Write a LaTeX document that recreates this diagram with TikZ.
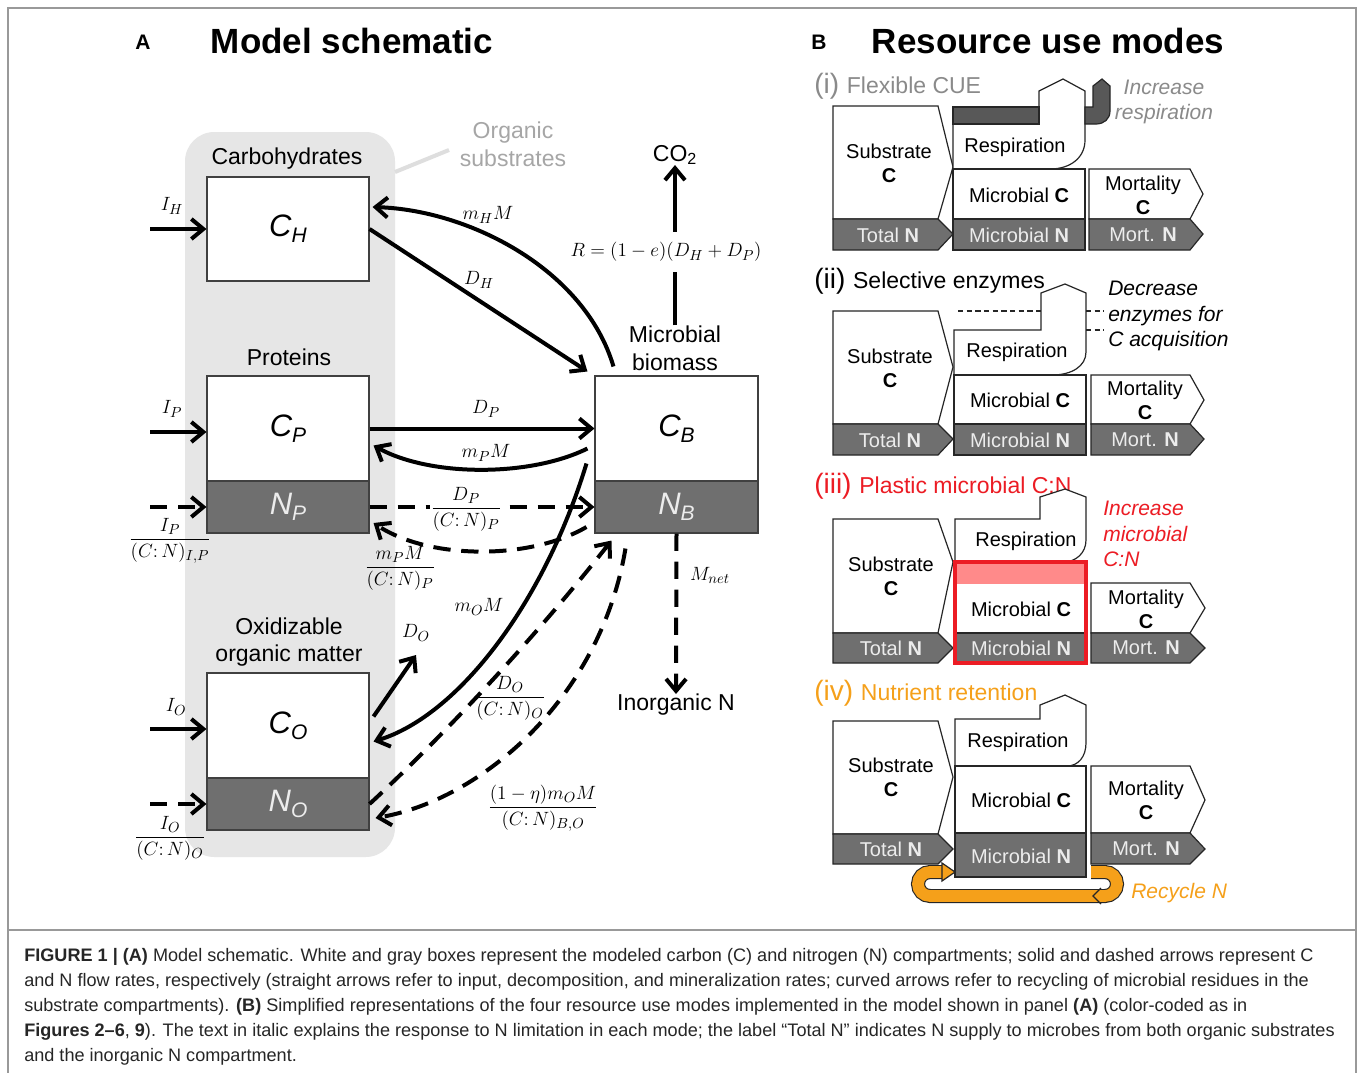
\documentclass[tikz,border=0pt]{standalone}
\usepackage[no-math]{fontspec}
\setmainfont{Liberation Sans}
\usetikzlibrary{arrows.meta,fit}

\definecolor{boxgray}{HTML}{6F6F6F}
\definecolor{bandgray}{HTML}{585858}
\definecolor{panelgray}{HTML}{E6E6E6}
\definecolor{leadgray}{HTML}{DEDEDE}
\definecolor{softgray}{HTML}{A6A6A6}
\definecolor{titlegray}{HTML}{8A8A8A}
\definecolor{ntext}{HTML}{ECECEC}
\definecolor{modered}{HTML}{EC1C24}
\definecolor{modepink}{HTML}{FF8A8A}
\definecolor{modeorange}{HTML}{F5A01A}

% font size given in pixels of the drawing grid (1px = 0.75pt)
\newcommand\pxfont[1]{\fontsize{\fpeval{0.75*(#1)}}{\fpeval{0.9*(#1)}}\selectfont}
% pool symbol: italic letter with lowered subscript
\newcommand\poollab[3][black]{\textcolor{#1}{\pxfont{31}\itshape #2\raisebox{-4.5pt}{\pxfont{21}#3}}}
\newcommand\ratio[2]{\displaystyle\frac{#1}{#2}}

\begin{document}
\begin{tikzpicture}[x=0.75pt,y=-0.75pt,
  flow/.style={line width=3pt,-{Straight Barb[length=9pt,width=15pt]}},
  nflow/.style={flow,dash pattern=on 13pt off 8pt},
  pool/.style={draw=black!75,line width=0.8pt,fill=white,inner sep=0pt},
  npool/.style={pool,fill=boxgray},
  mathlab/.style={font=\pxfont{21},inner sep=1pt},
  grouplab/.style={font=\pxfont{23},inner sep=0pt,align=center},
  outline/.style={draw=black!85,line width=0.9pt,line join=miter},
  wshape/.style={outline,fill=white},
  gshape/.style={outline,fill=boxgray},
  dshape/.style={outline,fill=bandgray},
  btxt/.style={font=\pxfont{20},inner sep=0pt,align=center},
  ntxt/.style={btxt,text=ntext},
  hint/.style={font=\pxfont{21}\itshape,inner sep=0pt,align=left,anchor=west},
  modetitle/.style={anchor=base west,inner sep=0pt},
  caption/.style={font=\pxfont{18.1},anchor=base west,inner sep=0pt,text=black!85}
]
\useasboundingbox (0,0) rectangle (1357,1072);
\fill[white] (0,0) rectangle (1357,1072);
% frame and caption rule
\draw[black!40,line width=0.8pt] (8,8) rectangle (1356,1110);
\draw[black!40,line width=0.8pt] (8,930) -- (1356,930);

% ================= panel A: model schematic =================
\node[font=\bfseries\pxfont{21}] (labA) at (143,42) {A};
\node[font=\bfseries\pxfont{35}] (titleA) at (352,41) {Model schematic};

\fill[panelgray,rounded corners=22pt] (185,132) rectangle (395,857);
\node[grouplab,text=softgray] (orgsub) at (513,144) {Organic\\substrates};
\coordinate (orgfoot) at (395,172);
\coordinate (orgtip) at (449,150);
\draw[leadgray,line width=3pt] (orgfoot) -- (orgtip);

\node[grouplab] (carb) at (287,159) {Carbohydrates};
\node[grouplab] (prot) at (289,357) {Proteins};
\node[grouplab] (oxid) at (289,642) {Oxidizable\\organic matter};
\node[grouplab] (MB) at (675,348) {Microbial\\biomass};
\node[grouplab] (co2) at (675,155) {CO\textsubscript{2}};
\node[grouplab] (inorg) at (676,705) {Inorganic N};

% compartments
\node[pool,fit={(207,177)(369,281)}] (CH) {};
\node[pool,fit={(207,376)(369,481)}] (CP) {};
\node[npool,fit={(207,481)(369,533)}] (NP) {};
\node[pool,fit={(207,673)(369,778)}] (CO) {};
\node[npool,fit={(207,778)(369,830)}] (NO) {};
\node[pool,fit={(595,376)(758,481)}] (CB) {};
\node[npool,fit={(595,481)(758,533)}] (NB) {};

\node (CHl) at (CH) {\poollab{C}{H}};
\node (CPl) at (CP) {\poollab{C}{P}};
\node (NPl) at (NP) {\poollab[ntext]{N}{P}};
\node (COl) at (CO) {\poollab{C}{O}};
\node (NOl) at (NO) {\poollab[ntext]{N}{O}};
\node (CBl) at (CB) {\poollab{C}{B}};
\node (NBl) at (NB) {\poollab[ntext]{N}{B}};

% external inputs
\coordinate (inH) at (150,229);
\draw[flow] (inH) -- (CH.west);
\node[mathlab] (IH) at (172,206) {$I_H$};
\coordinate (inCP) at (150,432);
\draw[flow] (inCP) -- (inCP -| CP.west);
\node[mathlab] (IP) at (172,409) {$I_P$};
\coordinate (inNP) at (150,507);
\draw[nflow] (inNP) -- (NP.west);
\node[mathlab] (IPN) at (170,541) {$\ratio{I_P}{(C\colon N)_{I,P}}$};
\coordinate (inCO) at (150,729);
\draw[flow] (inCO) -- (inCO -| CO.west);
\node[mathlab] (IO) at (176,707) {$I_O$};
\coordinate (inNO) at (150,804);
\draw[nflow] (inNO) -- (NO.west);
\node[mathlab] (ION) at (170,838) {$\ratio{I_O}{(C\colon N)_O}$};

% respiration and mineralization
\draw[flow] (MB.north) -- (co2.south);
\node[mathlab,fill=white,inner ysep=8pt] (Rlab) at (666,252) {$R=(1-e)(D_H+D_P)$};
\draw[nflow] (NB.south) -- (inorg.north);
\node[mathlab] (mnet) at (710,575) {$M_{net}$};

% carbohydrate fluxes
\draw[flow] ([shift={(19,-9)}]CB.north west) .. controls (585,270) and (470,210) .. ([shift={(3,-22)}]CH.east);
\node[mathlab] (mHM) at (488,215) {$m_H M$};
\draw[flow] (CH.east) -- ([shift={(-7,-4)}]CB.north west);
\node[mathlab] (DH) at (479,280) {$D_H$};

% protein fluxes
\draw[flow] (CP.east) -- (CB.west);
\node[mathlab] (DP) at (486,409) {$D_P$};
\draw[flow] ([shift={(-7,20)}]CB.west) .. controls (530,477) and (430,477) .. ([shift={(4,17)}]CP.east);
\node[mathlab] (mPM) at (486,453) {$m_P M$};
\draw[nflow] (NP.east) -- (NB.west);
\node[mathlab,fill=white] (DPN) at (466,509) {$\ratio{D_P}{(C\colon N)_P}$};
\draw[nflow] ([shift={(-8,20)}]NB.west) .. controls (530,560) and (430,560) .. ([shift={(4,16)}]NP.east);
\node[mathlab] (mPMN) at (400,568) {$\ratio{m_P M}{(C\colon N)_P}$};

% oxidizable organic matter fluxes
\draw[flow] ([shift={(-8,-18)}]CB.south west) .. controls (545,600) and (460,715) .. ([shift={(4,16)}]CO.east);
\node[mathlab] (mOM) at (479,607) {$m_O M$};
\coordinate (DOend) at (416,655);
\draw[flow] ([shift={(4,-9)}]CO.east) -- (DOend);
\node[mathlab] (DO) at (416,633) {$D_O$};
\draw[nflow] (NO.east) .. controls (455,725) and (545,625) .. ([shift={(17,7)}]NB.south west);
\node[mathlab] (DON) at (510,698) {$\ratio{D_O}{(C\colon N)_O}$};
\draw[nflow] ([shift={(31,15)}]NB.south west) .. controls (600,700) and (480,800) .. ([shift={(6,14)}]NO.east);
\node[mathlab] (mOMN) at (543,808) {$\ratio{(1-\eta)m_O M}{(C\colon N)_{B,O}}$};

% ================= panel B: resource use modes =================
\node[font=\bfseries\pxfont{21}] (labB) at (819,42) {B};
\node[font=\bfseries\pxfont{35}] (titleB) at (1048,41) {Resource use modes};

% --- (i) flexible CUE
\node[modetitle,text=titlegray] (modeI) at (814,93) {\pxfont{28}(i) \pxfont{23}Flexible CUE};
\path[wshape] (833,106) -- (938,106) -- (953,167) -- (938,219) -- (833,219) -- cycle;
\path[gshape] (833,219) -- (938,219) -- (953,234) -- (938,250) -- (833,250) -- cycle;
\path[wshape] (953,124) -- (1039,124) -- (1039,91) -- (1063,79) -- (1085,91) -- (1085,140)
   .. controls (1085,158) and (1070,169) .. (1050,169) -- (953,169) -- cycle;
\path[dshape] (953,107) rectangle (1039,124);
\path[dshape] (1085,107) -- (1093,107) -- (1093,86) -- (1102,79) -- (1110,86) -- (1110,111)
   .. controls (1110,119) and (1104,124) .. (1096,124) -- (1085,124) -- cycle;
\path[wshape] (953,169) rectangle (1085,219);
\path[gshape] (953,219) rectangle (1085,250);
\path[wshape] (1089,169) -- (1190,169) -- (1203,194) -- (1190,219) -- (1089,219) -- cycle;
\path[gshape] (1089,219) -- (1190,219) -- (1203,234) -- (1190,250) -- (1089,250) -- cycle;
\node[btxt] (subI) at (889,163) {Substrate\\\textbf{C}};
\node[ntxt] (totI) at (888,235) {Total \textbf{N}};
\node[btxt] (respI) at (1015,147) {Respiration};
\node[btxt] (micI) at (1019,195) {Microbial \textbf{C}};
\node[ntxt] (micnI) at (1019,235) {Microbial \textbf{N}};
\node[btxt] (mortI) at (1143,195) {Mortality\\\textbf{C}};
\node[ntxt] (mortnI) at (1143,235) {Mort. \textbf{N}};
\node[hint,text=titlegray,align=center,anchor=center] (hintI) at (1164,102) {Increase\\respiration};

% --- (ii) selective enzymes
\node[modetitle] (modeII) at (814,288) {\pxfont{28}(ii) \pxfont{23}Selective enzymes};
\path[wshape] (833,311) -- (938,311) -- (953,367) -- (938,424) -- (833,424) -- cycle;
\path[gshape] (833,424) -- (938,424) -- (953,439) -- (938,455) -- (833,455) -- cycle;
\path[wshape] (954,330) -- (1041,330) -- (1041,293) -- (1065,284) -- (1086,293) -- (1086,352)
   .. controls (1086,366) and (1072,375) .. (1052,375) -- (954,375) -- cycle;
\draw[outline,dash pattern=on 4pt off 2.5pt] (958,311) -- (1041,311) (1086,311) -- (1104,311) (1086,330) -- (1104,330);
\path[wshape] (954,375) rectangle (1086,424);
\path[gshape] (954,424) rectangle (1086,455);
\path[wshape] (1091,375) -- (1190,375) -- (1204,400) -- (1190,424) -- (1091,424) -- cycle;
\path[gshape] (1091,424) -- (1190,424) -- (1204,439) -- (1190,455) -- (1091,455) -- cycle;
\node[btxt] (subII) at (890,368) {Substrate\\\textbf{C}};
\node[ntxt] (totII) at (890,440) {Total \textbf{N}};
\node[btxt] (respII) at (1017,352) {Respiration};
\node[btxt] (micII) at (1020,400) {Microbial \textbf{C}};
\node[ntxt] (micnII) at (1020,440) {Microbial \textbf{N}};
\node[btxt] (mortII) at (1145,400) {Mortality\\\textbf{C}};
\node[ntxt] (mortnII) at (1145,440) {Mort. \textbf{N}};
\node[hint] (hintII) at (1108,316) {Decrease\\enzymes for\\C acquisition};

% --- (iii) plastic microbial C:N
\node[modetitle,text=modered] (modeIII) at (814,493) {\pxfont{28}(iii) \pxfont{23}Plastic microbial C:N};
\path[wshape] (833,519) -- (938,519) -- (953,562) -- (938,633) -- (833,633) -- cycle;
\path[gshape] (833,633) -- (938,633) -- (953,648) -- (938,663) -- (833,663) -- cycle;
\path[wshape] (955,519) -- (1040,519) -- (1040,497) -- (1065,489) -- (1086,497) -- (1086,540)
   .. controls (1086,553) and (1076,562) .. (1063,562) -- (955,562) -- cycle;
\fill[modepink] (955,562) rectangle (1086,584);
\fill[white] (955,584) rectangle (1086,633);
\path[gshape] (955,633) rectangle (1086,663);
\path[wshape] (1091,583) -- (1190,583) -- (1205,608) -- (1190,633) -- (1091,633) -- cycle;
\path[gshape] (1091,633) -- (1190,633) -- (1205,648) -- (1190,663) -- (1091,663) -- cycle;
\draw[modered,line width=2.4pt] (955,562) rectangle (1086,663);
\node[btxt] (subIII) at (891,576) {Substrate\\\textbf{C}};
\node[ntxt] (totIII) at (891,648) {Total \textbf{N}};
\node[btxt] (respIII) at (1026,541) {Respiration};
\node[btxt] (micIII) at (1021,609) {Microbial \textbf{C}};
\node[ntxt] (micnIII) at (1021,648) {Microbial \textbf{N}};
\node[btxt] (mortIII) at (1146,609) {Mortality\\\textbf{C}};
\node[ntxt] (mortnIII) at (1146,648) {Mort. \textbf{N}};
\node[hint,text=modered] (hintIII) at (1103,534) {Increase\\microbial\\C:N};

% --- (iv) nutrient retention
\node[modetitle,text=modeorange] (modeIV) at (814,700) {\pxfont{28}(iv) \pxfont{23}Nutrient retention};
\path[wshape] (833,721) -- (938,721) -- (953,777) -- (938,834) -- (833,834) -- cycle;
\path[gshape] (833,834) -- (938,834) -- (953,849) -- (938,864) -- (833,864) -- cycle;
\path[wshape] (955,719) -- (1040,719) -- (1040,705) -- (1065,695) -- (1086,705) -- (1086,743)
   .. controls (1086,757) and (1078,766) .. (1067,766) -- (955,766) -- cycle;
\path[wshape] (955,766) rectangle (1086,833);
\path[gshape] (955,833) rectangle (1086,877);
\path[wshape] (1091,766) -- (1190,766) -- (1205,800) -- (1190,833) -- (1091,833) -- cycle;
\path[gshape] (1091,833) -- (1190,833) -- (1205,849) -- (1190,864) -- (1091,864) -- cycle;
% recycling loop below the microbial box
\draw[black!85,line width=10.5pt] (1091,872) -- (1105,872) arc[start angle=-90,end angle=90,radius=12]
   -- (930,896) arc[start angle=90,end angle=270,radius=12] -- (944,872);
\draw[modeorange,line width=8.8pt] (1091,872) -- (1105,872) arc[start angle=-90,end angle=90,radius=12]
   -- (930,896) arc[start angle=90,end angle=270,radius=12] -- (944,872);
\path[outline,fill=modeorange] (942,863) -- (955,872) -- (942,881) -- cycle;
\draw[outline] (1101,888) -- (1093,896) -- (1101,904);
\node[btxt] (subIV) at (891,777) {Substrate\\\textbf{C}};
\node[ntxt] (totIV) at (891,849) {Total \textbf{N}};
\node[btxt] (respIV) at (1018,742) {Respiration};
\node[btxt] (micIV) at (1021,800) {Microbial \textbf{C}};
\node[ntxt] (micnIV) at (1021,856) {Microbial \textbf{N}};
\node[btxt] (mortIV) at (1146,800) {Mortality\\\textbf{C}};
\node[ntxt] (mortnIV) at (1146,849) {Mort. \textbf{N}};
\node[hint,text=modeorange] (hintIV) at (1131,893) {Recycle N};

% ================= caption =================
\node[caption] (cap1) at (24,961) {\textbf{FIGURE 1 | (A)} Model schematic. White and gray boxes represent the modeled carbon (C) and nitrogen (N) compartments; solid and dashed arrows represent C};
\node[caption] (cap2) at (24,986) {and N flow rates, respectively (straight arrows refer to input, decomposition, and mineralization rates; curved arrows refer to recycling of microbial residues in the};
\node[caption] (cap3) at (24,1011) {substrate compartments). \textbf{(B)} Simplified representations of the four resource use modes implemented in the model shown in panel \textbf{(A)} (color-coded as in};
\node[caption] (cap4) at (24,1036) {\textbf{Figures 2–6}, \textbf{9}). The text in italic explains the response to N limitation in each mode; the label “Total N” indicates N supply to microbes from both organic substrates};
\node[caption] (cap5) at (24,1061) {and the inorganic N compartment.};
\end{tikzpicture}
\end{document}
